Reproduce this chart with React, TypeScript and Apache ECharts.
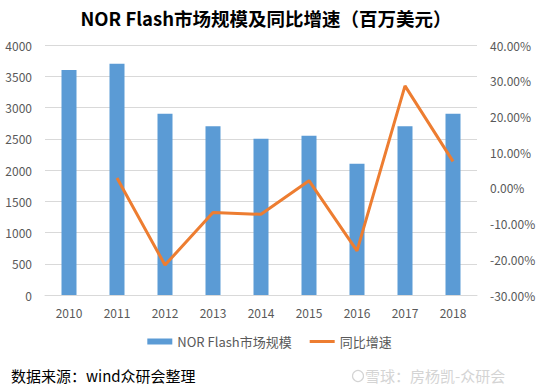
import React, { useEffect, useRef } from "react";
import * as echarts from "echarts";

const categories = ["2010", "2011", "2012", "2013", "2014", "2015", "2016", "2017", "2018"];
const marketSize = [3600, 3700, 2900, 2700, 2500, 2550, 2100, 2700, 2900];
const growthRate = [null, 2.78, -21.62, -6.9, -7.41, 2.0, -17.65, 28.57, 7.41];
const leftTicks = { min: 0, max: 4000, interval: 500 };
const rightTicks = { min: -30, max: 40, interval: 10 };

const FONT = "'Noto Sans CJK SC', 'Noto Sans', sans-serif";

export default function App() {
  const ref = useRef<HTMLDivElement>(null);
  useEffect(() => {
    document.body.style.margin = "0";
    const chart = echarts.init(ref.current!, null, { renderer: "svg" });
    chart.setOption({
      animation: false,
      backgroundColor: "#ffffff",
      textStyle: { fontFamily: FONT },
      title: {
        text: "NOR Flash市场规模及同比增速（百万美元）",
        left: 261,
        textAlign: "center",
        top: 4,
        textStyle: { fontSize: 18.5, fontWeight: "bold", color: "#000000", fontFamily: FONT },
      },
      grid: { left: 45, right: 62, top: 45, bottom: 96, containLabel: false },
      legend: {
        bottom: 38,
        left: "center",
        itemGap: 18,
        itemWidth: 25,
        itemHeight: 6,
        symbolKeepAspect: true,
        textStyle: { fontSize: 13, color: "#595959", fontFamily: FONT },
        data: [
          { name: "NOR Flash市场规模", icon: "rect" },
          { name: "同比增速", icon: "path://M0,0 L25,0 L25,3 L0,3 Z" },
        ],
      },
      xAxis: {
        type: "category",
        data: categories,
        axisLine: { lineStyle: { color: "#D9D9D9" } },
        axisTick: { show: false },
        axisLabel: { color: "#595959", fontSize: 12, margin: 11 },
      },
      yAxis: [
        {
          type: "value",
          ...leftTicks,
          axisLine: { show: false },
          axisTick: { show: false },
          splitLine: { lineStyle: { color: "#D9D9D9" } },
          axisLabel: { color: "#595959", fontSize: 12, margin: 13, formatter: (v: number) => String(v) },
        },
        {
          type: "value",
          ...rightTicks,
          position: "right",
          axisLine: { show: false },
          axisTick: { show: false },
          splitLine: { show: false },
          axisLabel: {
            color: "#595959",
            fontSize: 12,
            margin: 13,
            formatter: (v: number) => v.toFixed(2) + "%",
          },
        },
      ],
      series: [
        {
          name: "NOR Flash市场规模",
          type: "bar",
          data: marketSize,
          barWidth: 15,
          itemStyle: { color: "#5B9BD5" },
        },
        {
          name: "同比增速",
          type: "line",
          yAxisIndex: 1,
          data: growthRate,
          symbol: "none",
          lineStyle: { color: "#ED7D31", width: 3 },
          itemStyle: { color: "#ED7D31" },
        },
      ],
      graphic: [
        {
          type: "text",
          left: 11,
          top: 368,
          style: { text: "数据来源：wind众研会整理", fontSize: 15, fill: "#000000", fontFamily: FONT },
        },
        {
          type: "circle",
          shape: { cx: 358, cy: 376, r: 5.5 },
          style: { fill: "none", stroke: "#d4d4d4", lineWidth: 1.2 },
        },
        {
          type: "text",
          left: 365,
          top: 368,
          style: { text: "雪球：房杨凯-众研会", fontSize: 15, fill: "#d4d4d4", fontFamily: FONT },
        },
      ],
    });
    return () => chart.dispose();
  }, []);
  return <div ref={ref} style={{ width: 539, height: 391 }} />;
}
